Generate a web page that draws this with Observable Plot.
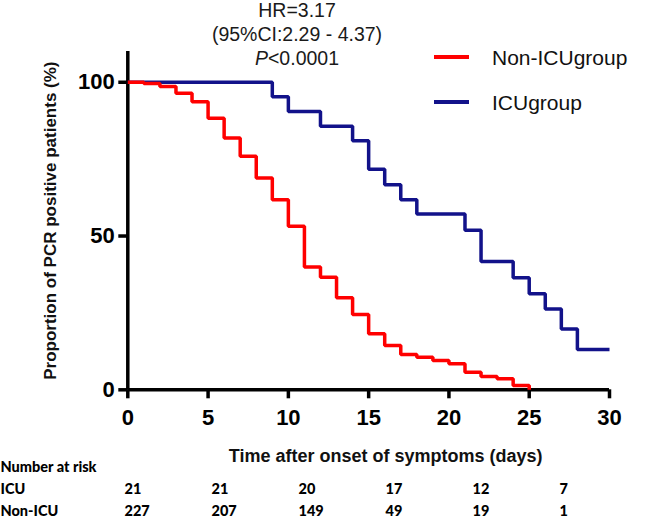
<!DOCTYPE html>
<html>
<head>
<meta charset="utf-8">
<script src="https://cdn.jsdelivr.net/npm/d3@7"></script>
<script src="https://cdn.jsdelivr.net/npm/@observablehq/plot@0.6"></script>
<style>
  html, body { margin: 0; padding: 0; background: #fff; }
  #fig { position: relative; width: 650px; height: 520px; overflow: hidden; background: #fff;
         font-family: "Liberation Sans", Arial, sans-serif; color: #111; }
  #fig > * { position: absolute; }
  #stats { left: 147px; top: -2px; width: 300px; text-align: center; font-size: 19.5px; line-height: 24.2px; color: #1a1a1a; }
  .leg-line { width: 35px; height: 3.5px; }
  .leg-text { font-size: 21px; line-height: 24px; white-space: nowrap; color: #111; }
</style>
</head>
<body>
<div id="fig"></div>
<script>
// ---- data ----
const nonIcuDays   = [0, 1, 2, 3, 4, 5, 6, 7, 8, 9, 10, 11, 12, 13, 14, 15, 16, 17, 18, 19, 20, 21, 22, 23, 24, 25];
const nonIcuValues = [100, 99.6, 98.6, 96.4, 93.7, 88.3, 81.9, 75.9, 68.9, 61.8, 53.2, 39.9, 36.6, 29.9, 24.5, 18.2, 14.4, 11.5, 10.6, 9.5, 8.5, 5.7, 4.3, 3.6, 1.4, 0];
const icuDays   = [0, 9, 10, 12, 14, 15, 16, 17, 18, 21, 22, 24, 25, 26, 27, 28, 30];
const icuValues = [100, 95.3, 90.5, 85.7, 81.0, 71.7, 66.7, 61.8, 57.2, 51.9, 41.7, 36.4, 31.2, 26.3, 19.8, 13.1, 13.1];
const xTicks = [0, 5, 10, 15, 20, 25, 30];
const yTicks = [0, 50, 100];
const groupNames = ["Non-ICUgroup", "ICUgroup"];
const groupColors = ["#ff0000", "#12128a"];
const statLines = ["HR=3.17", "(95%CI:2.29 - 4.37)", "<0.0001"];
const xLabel = "Time after onset of symptoms (days)";
const yLabel = "Proportion of PCR positive patients (%)";
const riskColumns = ["0", "5", "10", "15", "20", "25"];
const riskRows = ["Number at risk", "ICU", "Non-ICU"];
const icuAtRisk = [21, 21, 20, 17, 12, 7];
const nonIcuAtRisk = [227, 207, 149, 49, 19, 1];

// ---- build tables ----
const nonIcu = nonIcuDays.map((d, i) => ({day: d, value: nonIcuValues[i]}));
const icu = icuDays.map((d, i) => ({day: d, value: icuValues[i]}));
const riskCells = [
  ...riskColumns.map((c, i) => ({col: c, row: "ICU", n: icuAtRisk[i]})),
  ...riskColumns.map((c, i) => ({col: c, row: "Non-ICU", n: nonIcuAtRisk[i]}))
];

const fig = document.getElementById("fig");
const font = "'Liberation Sans', Arial, sans-serif";

const H = 470;
const main = Plot.plot({
  width: 650, height: H,
  marginTop: 51, marginBottom: H - 389.3, marginLeft: 127.3, marginRight: 41,
  style: {fontFamily: font, color: "#000", background: "transparent", overflow: "visible"},
  x: {domain: [0, 30]},
  y: {domain: [0, 110]},
  marks: [
    Plot.axisX({ticks: xTicks, tickSize: 9, tickPadding: 11, strokeWidth: 3.5, fontSize: 22, fontWeight: "bold", label: null, tickFormat: d => d}),
    Plot.axisY({ticks: yTicks, tickSize: 9, tickPadding: 4, strokeWidth: 3.5, fontSize: 22, fontWeight: "bold", label: null, tickFormat: d => d}),
    Plot.ruleX([0], {strokeWidth: 3.5, stroke: "#000"}),
    Plot.ruleY([0], {strokeWidth: 3.5, stroke: "#000"}),
    Plot.line(icu, {x: "day", y: "value", curve: "step-after", stroke: groupColors[1], strokeWidth: 3.5, strokeLinejoin: "miter", strokeLinecap: "butt"}),
    Plot.line(nonIcu, {x: "day", y: "value", curve: "step-after", stroke: groupColors[0], strokeWidth: 3.5, strokeLinejoin: "miter", strokeLinecap: "butt"}),
    Plot.text([xLabel], {frameAnchor: "bottom", dy: 66, dx: 17, fontSize: 18, fontWeight: "bold", lineAnchor: "middle", fill: "#111"}),
    Plot.text([yLabel], {frameAnchor: "left", dx: -77, rotate: -90, fontSize: 17, fontWeight: "bold", lineAnchor: "middle", textAnchor: "middle", fill: "#111"})
  ]
});
main.style.left = "0px"; main.style.top = "0px";
fig.appendChild(main);

// statistics annotation
const stats = document.createElement("div");
stats.id = "stats";
stats.innerHTML = `${statLines[0]}<br>${statLines[1]}<br><i>P</i>${statLines[2].replace("<", "&lt;")}`;
fig.appendChild(stats);

// legend
const legTops = [45.5, 90.7];
groupNames.forEach((name, i) => {
  const line = document.createElement("div");
  line.className = "leg-line";
  line.style.background = groupColors[i];
  line.style.left = "434px";
  line.style.top = (legTops[i] + 9.5) + "px";
  fig.appendChild(line);
  const t = document.createElement("div");
  t.className = "leg-text";
  t.textContent = name;
  t.style.left = "492px";
  t.style.top = legTops[i] + "px";
  fig.appendChild(t);
});

// number at risk table
const table = Plot.plot({
  width: 650, height: 62, margin: 0,
  style: {fontFamily: "Lato, 'Liberation Sans', sans-serif", color: "#000", background: "transparent", overflow: "visible"},
  x: {type: "point", domain: riskColumns, range: [122, 560], padding: 0, axis: null},
  y: {type: "point", domain: riskRows, range: [11, 56], padding: 0, axis: null},
  marks: [
    Plot.text(riskRows, {y: d => d, frameAnchor: "left", textAnchor: "start", fontSize: 14.5, fontWeight: 900, fill: "#000"}),
    Plot.text(riskCells, {x: "col", y: "row", text: "n", textAnchor: "start", fontSize: 14.5, fontWeight: 900, fill: "#000"})
  ]
});
table.style.left = "0px"; table.style.top = "455px";
fig.appendChild(table);
</script>
</body>
</html>
